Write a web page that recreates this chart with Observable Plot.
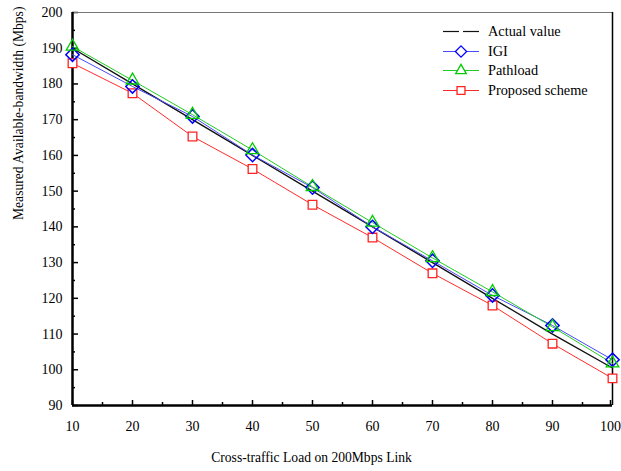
<!DOCTYPE html>
<html><head><meta charset="utf-8">
<script src="https://cdn.jsdelivr.net/npm/d3@7"></script>
<script src="https://cdn.jsdelivr.net/npm/@observablehq/plot@0.6"></script>
<style>
body{margin:0;background:#fff;}
#wrap{position:relative;width:621px;height:471px;font-family:"Liberation Serif","Times New Roman",serif;}
#wrap > svg{overflow:visible;}
#legend{position:absolute;left:440px;top:22px;font-size:14.3px;}
#legend .row{height:19.5px;display:flex;align-items:center;}
#legend svg{width:42px;height:19px;margin-right:6px;}
</style>
</head><body>
<div id="wrap"></div>
<script>
const loads = [10,20,30,40,50,60,70,80,90,100];
const actual = [190,180,170,160,150,140,130,120,110,100.5];
const igi = [188.2,179.3,170.9,160.1,151,140,130.5,120.8,112.4,102.8];
const pathload = [190.5,181,171.4,161.5,151.2,141.2,131.3,121.8,112,101.8];
const proposed = [185.8,177.4,165.3,156.2,146.2,137,127,118,107.3,97.6];
const xMajor = [10,20,30,40,50,60,70,80,90];
const xLast = [100];
const xMinor = [15,25,35,45,55,65,75,85,95];
const yMajor = [90,100,110,120,130,140,150,160,170,180,190,200];
const yMinor = [95,105,115,125,135,145,155,165,175,185,195];
const seriesNames = ["Actual value","IGI","Pathload","Proposed scheme"];
const xTitle = "Cross-traffic Load on 200Mbps Link";
const yTitle = "Measured Available-bandwidth (Mbps)";

const rows = (vals) => loads.map((x,i)=>({x, y: vals[i]}));
const A = rows(actual), I = rows(igi), P = rows(pathload), R = rows(proposed);

const chart = Plot.plot({
  width: 621, height: 471,
  marginLeft: 72, marginRight: 9, marginTop: 12, marginBottom: 66,
  style: {fontFamily: '"Liberation Serif","Times New Roman",serif', fontSize: "14px", color: "#000", background: "#fff", overflow: "visible"},
  x: {domain: [10,100]},
  y: {domain: [90,200]},
  marks: [
    Plot.axisX({ticks: xMajor, tickSize: -5, tickPadding: 21, label: null, tickFormat: d3.format("d"), strokeWidth: 1.5}),
    Plot.axisX({ticks: xLast, tickSize: -5, tickPadding: 21, label: null, tickFormat: d3.format("d"), strokeWidth: 1.5, dx: -2}),
    Plot.axisX({ticks: xMinor, tickSize: -3, tickFormat: () => "", label: null, strokeWidth: 1.5}),
    Plot.axisY({ticks: yMajor, tickSize: -6, tickPadding: 16, label: null, tickFormat: d3.format("d"), strokeWidth: 1.5}),
    Plot.axisY({ticks: yMinor, tickSize: -3, tickFormat: () => "", label: null, strokeWidth: 1.5}),
    Plot.ruleY([200], {stroke: "#777", strokeWidth: 1}),
    Plot.ruleX([100], {stroke: "#000", strokeWidth: 1.5}),
    Plot.ruleX([10], {stroke: "#000", strokeWidth: 2.5}),
    Plot.ruleY([90], {stroke: "#000", strokeWidth: 2.5}),
    Plot.line(A, {x: "x", y: "y", stroke: "#111", strokeWidth: 1.4}),
    Plot.line(I, {x: "x", y: "y", stroke: "#4a4aff", strokeWidth: 1}),
    Plot.line(P, {x: "x", y: "y", stroke: "#22cc22", strokeWidth: 1}),
    Plot.line(R, {x: "x", y: "y", stroke: "#ff2a2a", strokeWidth: 1}),
    Plot.dot(R, {x: "x", y: "y", symbol: "square2", r: 5.5, stroke: "#ff2222", fill: "#fff", strokeWidth: 1.3}),
    Plot.dot(I, {x: "x", y: "y", symbol: "diamond2", r: 6, stroke: "#0000ff", fill: "#fff", fillOpacity: 0, strokeWidth: 1.5}),
    Plot.dot(P, {x: "x", y: "y", symbol: "triangle2", r: 6, stroke: "#00cc00", fill: "#fff", fillOpacity: 0, strokeWidth: 1.3}),
    Plot.text([xTitle], {frameAnchor: "bottom", dy: 56, dx: -31, fontSize: 13.6}),
    Plot.text([yTitle], {frameAnchor: "left", rotate: -90, dx: -54, dy: 11, fontSize: 13.6})
  ]
});
const wrap = document.getElementById("wrap");
wrap.appendChild(chart);

const legendStyles = [
  {stroke: "#111", symbol: null},
  {stroke: "#0000ff", line: "#4a4aff", symbol: d3.symbolDiamond2},
  {stroke: "#00cc00", line: "#22cc22", symbol: d3.symbolTriangle2},
  {stroke: "#ff2222", line: "#ff2a2a", symbol: d3.symbolSquare2}
];
const leg = document.createElement("div");
leg.id = "legend";
seriesNames.forEach((name, i) => {
  const st = legendStyles[i];
  const row = document.createElement("div");
  row.className = "row";
  const ns = "http://www.w3.org/2000/svg";
  const svg = document.createElementNS(ns, "svg");
  if (!st.symbol) {
    for (const [a,b] of [[3,19],[23,39]]) {
      const l = document.createElementNS(ns, "line");
      l.setAttribute("x1", a); l.setAttribute("x2", b); l.setAttribute("y1", 9.5); l.setAttribute("y2", 9.5);
      l.setAttribute("stroke", st.stroke); l.setAttribute("stroke-width", 1.2);
      svg.appendChild(l);
    }
  } else {
    const l = document.createElementNS(ns, "line");
    l.setAttribute("x1", 3); l.setAttribute("x2", 39); l.setAttribute("y1", 9.5); l.setAttribute("y2", 9.5);
    l.setAttribute("stroke", st.line); l.setAttribute("stroke-width", 1.2);
    svg.appendChild(l);
    const p = document.createElementNS(ns, "path");
    p.setAttribute("d", d3.symbol(st.symbol, 80)());
    p.setAttribute("transform", "translate(21,9.5)");
    p.setAttribute("fill", "#fff"); p.setAttribute("stroke", st.stroke); p.setAttribute("stroke-width", 1.3);
    svg.appendChild(p);
  }
  row.appendChild(svg);
  const t = document.createElement("span");
  t.textContent = name;
  row.appendChild(t);
  leg.appendChild(row);
});
wrap.appendChild(leg);
</script>
</body></html>
